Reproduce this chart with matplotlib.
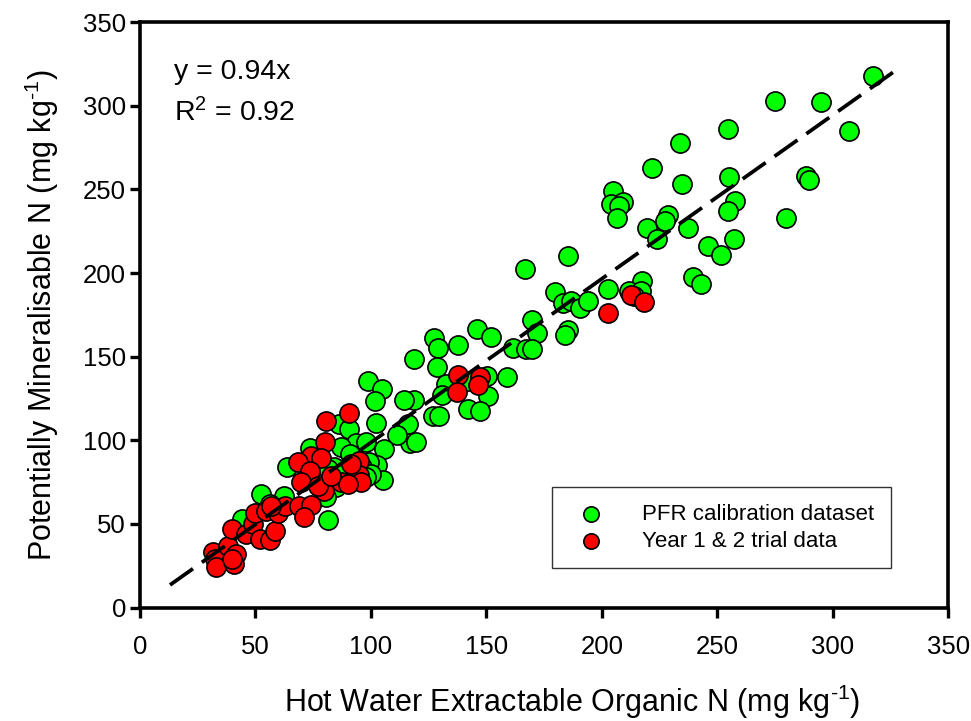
import matplotlib
matplotlib.use("Agg")
import matplotlib.pyplot as plt

plt.rcParams["font.family"] = ["Liberation Sans", "DejaVu Sans"]
plt.rcParams["mathtext.fontset"] = "custom"
plt.rcParams["mathtext.rm"] = "Liberation Sans"
plt.rcParams["mathtext.it"] = "Liberation Sans"

# ── PFR calibration dataset (HWEON vs PMN, mg kg-1) ──────────────
calib_x = [317.5, 275, 295, 254.6, 306.8, 233.6, 221.8, 234.6, 255, 288.3,
           289.8, 204.6, 203.8, 209.2, 207.4, 206.4, 257.8, 254.6, 228.7, 227.1,
           279.7, 219.3, 224, 237.2, 257, 245.8, 251.6, 239.5, 242.7, 202.8,
           217.2, 211.9, 217, 214,
           185.1, 166.7, 179.7, 183.2, 186.5, 190.5, 194, 169.9, 171.8, 185.1,
           183.9, 161.5, 167, 169.6, 145.8, 151.9, 127.4, 128.9, 137.8, 118.8,
           128.6, 159.1, 132.3, 150.2, 141.8, 150.5, 130.8, 141.8, 147.3, 126.7,
           129.6, 118.8, 114.4, 116.2, 116.7, 119.7,
           98.6, 104.8, 101.8, 102.3, 111.4, 86.3, 90.7, 93.6, 97.9, 73.6,
           105.8, 87, 102.6, 99.3, 105.3, 84.2, 81.3, 82.8, 91, 96,
           88, 100, 85, 92, 98, 80.6, 81.3, 63.5, 52.5, 62.2,
           56.3, 44.2]
calib_y = [318, 303, 302, 286, 285, 278, 263, 253, 257.5, 258,
           255.5, 249, 241, 242.5, 240, 233, 243, 237, 235, 231,
           233, 227, 220.5, 227, 220.5, 216, 211, 197.5, 193.3, 190.5,
           195.5, 189, 189.5, 186,
           210.3, 202.2, 188.8, 181.8, 183.2, 179.2, 183.5, 171.8, 164.2, 166,
           162.8, 155.4, 154.4, 154.6, 166.3, 162, 161, 155.3, 157.2, 148.8,
           144, 138, 133.5, 138.5, 135.5, 126.7, 126.8, 118.8, 117.6, 114.8,
           114.6, 124.2, 124.2, 110, 98.4, 98.8,
           135.2, 130.4, 123.2, 110.6, 103.2, 110, 106.8, 98.3, 98.8, 95.3,
           94.5, 96, 85.2, 87.2, 76.5, 83.8, 82.8, 77.8, 92, 84,
           80, 80, 72, 76, 78, 65.8, 52.5, 84.2, 68, 66.8,
           61.8, 53]

# ── Year 1 & 2 trial data ───────────────────────────────────────
trial_x = [31.6, 32.3, 33.1, 38.1, 41.7, 40.9, 40, 40, 46, 49,
           51.8, 56.3, 58.3, 50, 54.7, 59.7, 62.6, 56.8,
           80.6, 90.7, 79.9, 74.1, 68.6, 78.4, 73.4, 95, 95, 95.8,
           69.8, 79.6, 87.1, 90, 77, 68.8, 74.1, 71.2, 91.4, 82.8,
           137.8, 147.3, 137.1, 146.4,
           202.8, 212.7, 218.1]
trial_y = [33.2, 28.8, 24.4, 36.8, 32, 25.8, 29, 46.9, 44, 50,
           40.8, 40.4, 45.5, 56.8, 57.8, 56.8, 60.8, 60.8,
           111.8, 116.4, 98.8, 90.4, 86.8, 89.2, 81.8, 87.8, 79.2, 75.2,
           74.8, 69.9, 74.8, 73.8, 72.4, 60.8, 61.5, 54, 85.8, 78.8,
           138.8, 137.8, 128.8, 132.8,
           176, 186.8, 182.8]

# fitted line as drawn (end points)
line_x = [13, 326]
line_y = [13.5, 320]

fig = plt.figure(figsize=(9.71, 7.21), dpi=100)
ax = fig.add_axes([0.1442, 0.1574, 0.8325, 0.8118])

ax.scatter(calib_x, calib_y, s=190, c="#00ff00", edgecolors="black",
           linewidths=1.2, zorder=3, label="PFR calibration dataset")
ax.scatter(trial_x, trial_y, s=190, c="#ff0000", edgecolors="black",
           linewidths=1.2, zorder=4, label="Year 1 & 2 trial data")
ax.plot(line_x, line_y, color="black", linestyle=(0, (7.5, 2.9)),
        linewidth=2.7, zorder=5)

ax.set_xlim(0, 350)
ax.set_ylim(0, 350)
ax.set_xticks(range(0, 351, 50))
ax.set_yticks(range(0, 351, 50))
ax.tick_params(axis="both", direction="out", length=7, width=2.4,
               labelsize=18.5, top=False, right=False)
ax.tick_params(axis="x", pad=13)
ax.tick_params(axis="y", pad=3)
for sp in ax.spines.values():
    sp.set_linewidth(2.6)

ax.set_xlabel(r"Hot Water Extractable Organic N (mg kg$^{\text{-1}}$)",
              fontsize=22, labelpad=12)
ax.xaxis.set_label_coords(0.535, -0.128)
ax.set_ylabel(r"Potentially Mineralisable N (mg kg$^{\text{-1}}$)",
              fontsize=22, labelpad=16)

ax.text(14.5, 320, "y = 0.94x", fontsize=20.5, va="center", ha="left")
ax.text(14.5, 296, r"R$^2$ = 0.92", fontsize=20.5, va="center", ha="left")

leg = ax.legend(loc="lower right", bbox_to_anchor=(0.929, 0.067), fontsize=16,
                frameon=True, fancybox=False, edgecolor="black",
                borderpad=0.75, handletextpad=1.3, borderaxespad=0,
                markerscale=0.8, labelspacing=0.25)
leg.get_frame().set_linewidth(1.0)

fig.savefig("out.png", dpi=100)
